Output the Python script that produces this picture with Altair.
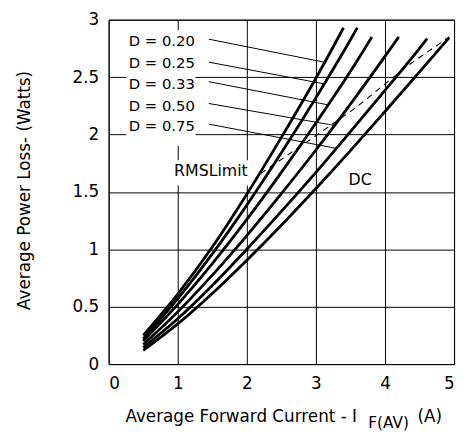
import altair as alt
import pandas as pd

# ---- data ----
series_names = ["D = 0.20", "D = 0.25", "D = 0.33", "D = 0.50", "D = 0.75", "DC"]
curve_I = [
    [0.5, 1.0, 1.5, 2.0, 2.5, 3.0, 3.40],
    [0.5, 1.0, 1.5, 2.0, 2.5, 3.0, 3.5, 3.60],
    [0.5, 1.0, 1.5, 2.0, 2.5, 3.0, 3.5, 3.81],
    [0.5, 1.0, 1.5, 2.0, 2.5, 3.0, 3.5, 4.0, 4.20],
    [0.5, 1.0, 1.5, 2.0, 2.5, 3.0, 3.5, 4.0, 4.5, 4.61],
    [0.5, 1.0, 1.5, 2.0, 2.5, 3.0, 3.5, 4.0, 4.5, 4.93],
]
curve_P = [
    [0.25, 0.61, 1.02, 1.48, 1.975, 2.49, 2.93],
    [0.22, 0.57, 0.96, 1.385, 1.84, 2.32, 2.825, 2.93],
    [0.20, 0.52, 0.875, 1.26, 1.67, 2.10, 2.55, 2.85],
    [0.17, 0.455, 0.775, 1.12, 1.485, 1.865, 2.265, 2.68, 2.85],
    [0.145, 0.395, 0.685, 1.00, 1.33, 1.67, 2.025, 2.385, 2.75, 2.835],
    [0.12, 0.35, 0.615, 0.905, 1.21, 1.53, 1.86, 2.20, 2.545, 2.845],
]
rms_I = [2.20, 2.93, 3.57, 4.33, 4.93]
rms_P = [1.66, 1.96, 2.23, 2.60, 2.85]

label_texts = ["D = 0.20", "D = 0.25", "D = 0.33", "D = 0.50", "D = 0.75"]
label_I = [0.29, 0.29, 0.29, 0.29, 0.29]
label_P = [2.81, 2.62, 2.44, 2.25, 2.07]
leader_I0 = [1.45, 1.45, 1.45, 1.45, 1.45]
leader_P0 = [2.83, 2.63, 2.46, 2.27, 2.09]
leader_I1 = [3.12, 3.13, 3.16, 3.26, 3.29]
leader_P1 = [2.63, 2.44, 2.26, 2.08, 1.88]

note_texts = ["RMSLimit", "DC"]
note_I = [1.48, 3.64]
note_P = [1.68, 1.60]

# white masks behind the labels (I0, I1, P0, P1)
mask_I0 = [0.257, 0.90]
mask_I1 = [1.257, 2.06]
mask_P0 = [1.90, 1.555]
mask_P1 = [2.91, 1.776]

x_ticks = [0, 1, 2, 3, 4, 5]
y_ticks = [i * 0.25 for i in range(13)]

FONT = "DejaVu Sans"
W, H = 350, 349

rows = []
for name, xs_, ys_ in zip(series_names, curve_I, curve_P):
    for a, b in zip(xs_, ys_):
        rows.append({"series": name, "I": a, "P": b})
curves = pd.DataFrame(rows)
rms = pd.DataFrame({"I": rms_I, "P": rms_P})
labels = pd.DataFrame({"t": label_texts, "I": label_I, "P": label_P})
leaders = pd.DataFrame({"I0": leader_I0, "P0": leader_P0, "I1": leader_I1, "P1": leader_P1})
notes = pd.DataFrame({"t": note_texts, "I": note_I, "P": note_P})
masks = pd.DataFrame({"I0": mask_I0, "I1": mask_I1, "P0": mask_P0, "P1": mask_P1})

xs = alt.Scale(domain=[0, 5], nice=False)
ys = alt.Scale(domain=[0, 3], nice=False)

xax = alt.Axis(values=x_ticks, grid=True, ticks=False, tickSize=0, domain=False,
               labelPadding=12, title="", format="~g")
yax = alt.Axis(values=y_ticks, grid=True, ticks=False, tickSize=0, domain=False,
               labelPadding=10, title="",
               labelExpr="datum.value % 0.5 == 0 ? format(datum.value, '~g') : ''")

base_grid = alt.Chart(masks).mark_rect(fill="white").encode(
    x=alt.X("I0:Q", scale=xs, axis=xax),
    x2="I1:Q",
    y=alt.Y("P0:Q", scale=ys, axis=yax),
    y2="P1:Q",
)

lines = alt.Chart(curves).mark_line(color="black", strokeWidth=2.8, interpolate="monotone").encode(
    x=alt.X("I:Q", scale=xs),
    y=alt.Y("P:Q", scale=ys),
    detail="series:N",
)

rms_line = alt.Chart(rms).mark_line(color="black", strokeWidth=1.1, strokeDash=[6, 5]).encode(
    x=alt.X("I:Q", scale=xs),
    y=alt.Y("P:Q", scale=ys),
)

leader_rules = alt.Chart(leaders).mark_rule(color="black", strokeWidth=1).encode(
    x=alt.X("I0:Q", scale=xs), y=alt.Y("P0:Q", scale=ys), x2="I1:Q", y2="P1:Q"
)

label_text = alt.Chart(labels).mark_text(font=FONT, fontSize=15, align="left",
                                          baseline="middle", color="black").encode(
    x=alt.X("I:Q", scale=xs), y=alt.Y("P:Q", scale=ys), text="t:N"
)

note_text = alt.Chart(notes).mark_text(font=FONT, fontSize=16, align="center",
                                        baseline="middle", color="black").encode(
    x=alt.X("I:Q", scale=xs), y=alt.Y("P:Q", scale=ys), text="t:N"
)

title_df = pd.DataFrame({"a": [0]})
ytitle = alt.Chart(title_df).mark_text(font=FONT, fontSize=17, angle=270, align="center",
                                        baseline="middle", color="black",
                                        text="Average Power Loss- (Watts)").encode(
    x=alt.value(-85), y=alt.value(173)
)
xtitle_main = alt.Chart(title_df).mark_text(font=FONT, fontSize=17, align="left",
                                             baseline="alphabetic", color="black",
                                             text="Average Forward Current - I").encode(
    x=alt.value(17), y=alt.value(408)
)
xtitle_sub = alt.Chart(title_df).mark_text(font=FONT, fontSize=15.5, align="left",
                                            baseline="alphabetic", color="black",
                                            text="F(AV)").encode(
    x=alt.value(263), y=alt.value(414)
)
xtitle_unit = alt.Chart(title_df).mark_text(font=FONT, fontSize=17, align="left",
                                             baseline="alphabetic", color="black",
                                             text="(A)").encode(
    x=alt.value(313), y=alt.value(408)
)

chart = alt.layer(
    base_grid, rms_line, lines, leader_rules, label_text, note_text,
    ytitle, xtitle_main, xtitle_sub, xtitle_unit
).properties(
    width=W, height=H,
    autosize=alt.AutoSizeParams(type="none"),
    padding={"left": 102, "top": 9, "right": 5, "bottom": 69},
).configure_view(
    stroke="black", strokeWidth=1
).configure_axis(
    gridColor="black", gridOpacity=1, gridWidth=1,
    labelFont=FONT, labelFontSize=17, labelColor="black",
)

chart.save("out.html", embed_options={"renderer": "svg", "actions": False})
